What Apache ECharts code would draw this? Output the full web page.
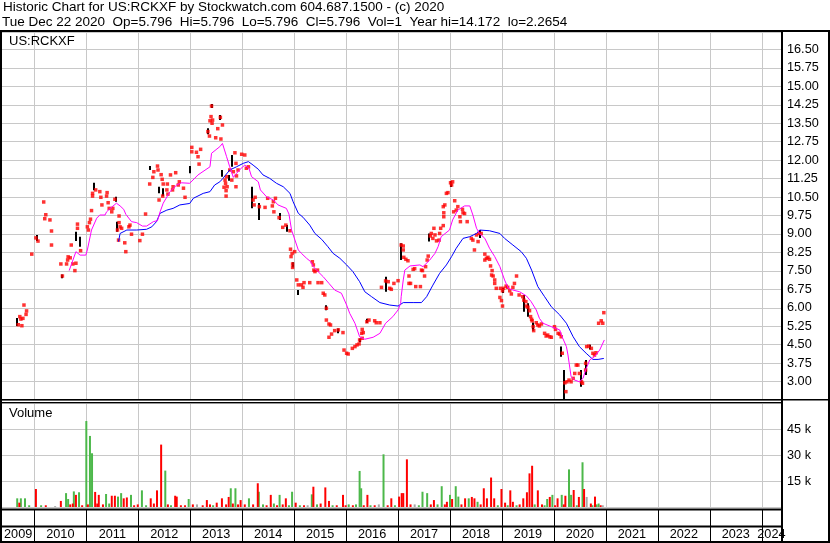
<!DOCTYPE html>
<html><head><meta charset="utf-8">
<script src="https://cdn.jsdelivr.net/npm/echarts@6/dist/echarts.min.js"></script>
<style>html,body{margin:0;padding:0;background:#fff}#c{width:830px;height:543px}</style>
</head><body><div id="c"></div>
<script>
const headerLine1 = 'Historic Chart for US:RCKXF by Stockwatch.com 604.687.1500 - (c) 2020';
const headerLine2 = 'Tue Dec 22 2020  Op=5.796  Hi=5.796  Lo=5.796  Cl=5.796  Vol=1  Year hi=14.172  lo=2.2654';
const tickerLabel = 'US:RCKXF';
const volumeLabel = 'Volume';
const yearLabels = ['2009','2010','2011','2012','2013','2014','2015','2016','2017','2018','2019','2020','2021','2022','2023','2024'];

// [decimal year, close]
const priceCloses = [
[2009.69,5.31],[2009.72,5.64],[2009.74,5.54],[2009.76,5.27],[2009.78,5.57],[2009.80,6.11],[2009.84,5.73],[2009.85,5.87],
[2009.95,8.18],[2010.03,8.84],[2010.07,8.71],[2010.18,10.30],[2010.20,9.62],[2010.22,9.78],[2010.30,9.57],[2010.33,9.12],[2010.33,8.55],
[2010.51,7.78],[2010.54,7.29],[2010.62,7.78],[2010.64,7.94],[2010.65,8.07],[2010.69,8.03],[2010.71,8.55],[2010.74,7.78],[2010.78,7.51],[2010.80,7.81],[2010.83,9.23],[2010.83,9.40],[2010.89,8.32],
[2011.02,9.29],[2011.04,9.16],[2011.06,9.46],[2011.08,9.60],[2011.10,9.95],[2011.12,10.54],[2011.12,10.65],[2011.18,10.79],[2011.26,10.72],[2011.28,10.49],[2011.30,10.18],[2011.39,10.54],[2011.40,10.68],[2011.42,10.27],[2011.44,10.04],[2011.49,9.90],[2011.51,10.04],[2011.55,10.41],[2011.60,9.16],[2011.62,8.75],[2011.63,9.73],[2011.63,9.46],[2011.65,9.29],[2011.68,9.23],[2011.74,8.64],[2011.76,8.28],[2011.82,9.29],[2011.84,9.36],[2011.87,8.99],
[2012.03,8.73],[2012.08,8.99],[2012.14,9.81],[2012.22,11.03],[2012.28,11.30],[2012.30,11.53],[2012.37,11.76],[2012.38,11.60],[2012.40,10.38],[2012.44,11.41],[2012.46,11.22],[2012.47,10.54],[2012.48,11.03],[2012.55,10.79],[2012.56,11.03],[2012.57,10.62],[2012.62,11.40],[2012.66,10.79],[2012.67,10.92],[2012.72,11.49],[2012.77,10.99],[2012.79,11.12],[2012.87,10.86],[2012.90,10.49],
[2013.03,12.34],[2013.03,12.52],[2013.12,12.32],[2013.15,12.14],[2013.17,11.84],[2013.20,12.44],[2013.34,13.16],[2013.37,12.98],[2013.38,13.60],[2013.40,13.77],[2013.41,14.20],[2013.42,13.50],[2013.43,13.63],[2013.49,12.91],[2013.53,13.28],[2013.58,13.74],[2013.59,12.86],[2013.62,13.43],[2013.65,10.90],[2013.67,11.19],[2013.68,11.06],[2013.69,10.76],[2013.69,10.54],[2013.70,11.33],[2013.71,10.92],[2013.76,11.60],[2013.80,11.19],[2013.83,11.53],[2013.86,12.30],[2013.88,11.87],[2013.88,10.92],[2013.89,11.36],[2013.92,11.60],[2013.99,12.24],
[2014.05,12.21],[2014.08,11.67],[2014.12,11.73],[2014.21,10.38],[2014.23,10.18],[2014.25,10.49],[2014.33,10.11],[2014.44,10.08],[2014.49,10.45],[2014.58,10.14],[2014.60,10.31],[2014.61,9.90],[2014.64,10.45],[2014.71,9.66],[2014.78,9.27],[2014.84,9.36],[2014.92,9.13],[2014.93,8.38],[2014.94,8.08],[2014.96,8.21],[2014.97,7.78],[2014.97,7.64],
[2015.01,8.28],[2015.05,7.13],[2015.08,6.93],[2015.14,6.93],[2015.17,6.83],[2015.19,7.02],[2015.30,7.02],[2015.35,7.87],[2015.37,7.74],[2015.38,7.53],[2015.40,7.47],[2015.45,7.53],[2015.46,7.02],[2015.53,7.02],[2015.56,6.59],[2015.59,6.52],[2015.62,5.98],[2015.62,5.50],[2015.67,5.34],[2015.67,4.80],[2015.70,5.30],[2015.72,4.93],[2015.78,5.07],[2015.85,5.10],[2015.94,4.99],[2015.96,4.28],
[2016.01,4.15],[2016.04,4.12],[2016.12,4.35],[2016.17,4.42],[2016.21,4.49],[2016.25,4.53],[2016.26,4.69],[2016.30,4.96],[2016.31,4.76],[2016.31,5.12],[2016.33,4.99],[2016.40,5.43],[2016.44,5.50],[2016.55,5.47],[2016.58,5.39],[2016.65,5.39],[2016.68,6.83],[2016.76,7.09],[2016.81,7.06],[2016.84,6.79],[2016.87,6.75],[2016.92,6.99],
[2017.00,7.10],[2017.06,8.55],[2017.10,8.35],[2017.10,8.51],[2017.11,8.05],[2017.15,7.97],[2017.19,7.91],[2017.21,7.29],[2017.21,6.99],[2017.24,6.99],[2017.29,7.56],[2017.32,7.59],[2017.34,6.86],[2017.43,6.86],[2017.45,7.53],[2017.47,7.51],[2017.51,7.29],[2017.53,7.67],[2017.56,7.94],[2017.58,8.10],[2017.62,8.92],[2017.64,9.02],[2017.67,8.82],[2017.69,9.23],[2017.71,8.96],[2017.74,8.72],[2017.79,8.75],[2017.80,9.02],[2017.82,9.23],[2017.87,9.34],[2017.87,10.11],[2017.88,9.70],[2017.88,9.86],[2017.90,10.18],[2017.93,10.65],[2017.96,10.68],
[2018.01,11.08],[2018.03,10.99],[2018.05,11.12],[2018.07,9.90],[2018.09,10.35],[2018.12,9.97],[2018.15,10.11],[2018.19,9.70],[2018.20,9.50],[2018.24,10.00],[2018.25,9.86],[2018.28,9.83],[2018.33,9.50],[2018.41,8.82],[2018.44,8.75],[2018.47,8.35],[2018.51,8.96],[2018.54,8.69],[2018.56,9.02],[2018.60,9.02],[2018.67,8.18],[2018.67,7.94],[2018.70,8.01],[2018.73,8.05],[2018.76,7.97],[2018.78,7.70],[2018.80,7.33],[2018.81,7.51],[2018.83,7.29],[2018.86,7.13],[2018.86,6.99],[2018.89,6.79],[2018.96,6.42],[2018.97,6.79],[2018.99,6.29],
[2019.01,6.07],[2019.01,6.69],[2019.03,6.79],[2019.08,6.88],[2019.11,6.83],[2019.15,6.69],[2019.18,6.56],[2019.21,6.83],[2019.24,6.99],[2019.28,7.29],[2019.33,6.52],[2019.40,6.45],[2019.42,6.31],[2019.46,6.25],[2019.47,6.07],[2019.50,6.02],[2019.53,5.88],[2019.55,5.64],[2019.57,5.53],[2019.58,5.47],[2019.60,5.23],[2019.61,5.07],[2019.66,5.39],[2019.69,5.30],[2019.72,5.26],[2019.76,5.34],[2019.82,4.96],[2019.85,4.85],[2019.88,4.89],[2019.92,4.82],[2019.95,4.80],
[2020.01,5.23],[2020.03,5.12],[2020.08,4.96],[2020.11,4.93],[2020.14,4.82],[2020.16,4.15],[2020.21,2.95],[2020.23,2.59],[2020.25,2.99],[2020.29,3.06],[2020.33,2.99],[2020.37,3.13],[2020.40,3.33],[2020.43,3.67],[2020.46,3.67],[2020.49,3.33],[2020.53,2.99],[2020.55,2.93],[2020.61,3.47],[2020.61,3.74],[2020.63,4.42],[2020.67,4.44],[2020.72,4.35],[2020.75,4.15],[2020.78,4.08],[2020.81,4.17],[2020.86,5.37],[2020.91,5.47],[2020.94,5.37],[2020.96,5.80]
];

// [decimal year, low, high]
const priceRanges = [
[2009.67,5.26,5.58],[2010.06,8.71,8.96],[2010.54,7.20,7.35],[2010.81,8.71,9.09],[2010.88,8.48,8.89],[2011.15,10.78,11.08],[2011.57,10.31,10.51],[2011.60,9.09,9.50],
[2012.23,11.60,11.76],[2012.40,10.65,10.92],[2012.47,10.54,10.86],[2012.99,11.47,11.76],[2013.34,13.05,13.30],[2013.41,14.12,14.28],[2013.57,13.63,13.84],[2013.62,11.33,11.60],[2013.74,11.16,11.40],[2013.80,11.73,12.21],
[2014.19,10.04,10.92],[2014.32,9.57,10.26],[2014.72,9.57,9.85],[2014.87,9.09,9.36],[2014.97,7.64,7.85],[2015.08,6.52,6.72],[2015.62,5.90,6.10],[2015.85,4.96,5.16],[2016.26,4.60,4.75],[2016.40,5.38,5.55],[2016.76,6.65,7.26],
[2017.06,7.94,8.62],[2017.60,8.69,9.02],[2018.01,10.91,11.15],[2018.57,8.84,9.16],[2019.01,6.60,6.80],[2019.42,5.84,6.52],[2019.50,5.63,6.18],[2019.60,5.07,5.40],[2020.14,4.01,4.42],[2020.19,2.27,3.47],[2020.53,2.79,3.47],[2020.61,3.27,3.88],[2020.70,4.30,4.50]
];

// short moving average (magenta)
const maShort = [
[2010.67,7.51],[2010.80,8.28],[2010.88,8.14],[2010.99,8.14],[2011.02,8.35],[2011.10,9.16],[2011.20,9.64],[2011.26,9.77],[2011.36,9.77],[2011.39,9.90],[2011.46,10.04],[2011.58,10.25],[2011.65,10.14],[2011.72,10.00],[2011.76,9.80],[2011.87,9.50],[2011.97,9.46],[2012.08,9.32],[2012.16,9.32],[2012.29,9.50],[2012.37,9.54],[2012.42,9.90],[2012.48,10.25],[2012.61,10.72],[2012.74,10.99],[2012.83,11.08],[2012.99,11.06],[2013.15,11.40],[2013.38,11.73],[2013.41,12.28],[2013.57,12.55],[2013.62,12.68],[2013.70,12.14],[2013.76,11.73],[2013.83,11.30],[2013.89,11.46],[2013.96,11.63],[2014.05,11.80],[2014.13,11.67],[2014.18,11.33],[2014.31,11.12],[2014.35,10.79],[2014.47,10.51],[2014.60,10.38],[2014.69,10.18],[2014.85,10.04],[2014.90,9.81],[2014.95,9.16],[2015.08,8.35],[2015.14,8.21],[2015.24,8.01],[2015.32,7.87],[2015.37,7.67],[2015.46,7.47],[2015.56,7.26],[2015.67,6.99],[2015.78,6.72],[2015.91,6.59],[2016.01,6.11],[2016.07,5.77],[2016.17,5.37],[2016.26,4.82],[2016.36,4.72],[2016.52,4.80],[2016.65,4.96],[2016.76,5.37],[2016.90,5.64],[2017.00,5.91],[2017.05,6.18],[2017.06,6.45],[2017.10,7.13],[2017.13,7.53],[2017.23,7.70],[2017.42,7.74],[2017.48,7.67],[2017.61,7.94],[2017.71,8.21],[2017.77,8.48],[2017.83,8.89],[2017.99,9.16],[2018.05,9.57],[2018.15,9.97],[2018.28,10.14],[2018.38,10.14],[2018.44,9.77],[2018.51,9.23],[2018.57,9.02],[2018.67,8.82],[2018.76,8.42],[2018.86,8.08],[2018.96,7.67],[2019.05,7.13],[2019.12,6.79],[2019.21,6.72],[2019.34,6.65],[2019.47,6.48],[2019.56,6.25],[2019.66,5.91],[2019.72,5.57],[2019.79,5.37],[2019.95,5.23],[2020.11,5.10],[2020.17,4.76],[2020.24,4.42],[2020.27,4.08],[2020.33,3.20],[2020.40,3.06],[2020.49,2.99],[2020.56,3.13],[2020.61,3.47],[2020.69,3.88],[2020.78,4.01],[2020.88,4.28],[2020.97,4.69]
];

// long moving average (blue)
const maLong = [
[2011.62,8.69],[2011.65,9.02],[2011.78,9.16],[2011.97,9.16],[2012.16,9.19],[2012.26,9.29],[2012.35,9.50],[2012.42,9.84],[2012.55,9.97],[2012.67,10.04],[2012.80,10.18],[2012.99,10.24],[2013.06,10.45],[2013.25,10.65],[2013.38,10.72],[2013.47,10.99],[2013.57,11.12],[2013.63,11.26],[2013.76,11.60],[2013.89,11.73],[2014.02,11.87],[2014.12,11.94],[2014.21,11.80],[2014.31,11.63],[2014.40,11.40],[2014.53,11.26],[2014.66,11.06],[2014.79,10.92],[2014.92,10.65],[2014.98,10.31],[2015.08,9.84],[2015.17,9.68],[2015.30,9.36],[2015.40,9.02],[2015.53,8.78],[2015.65,8.48],[2015.75,8.21],[2015.88,8.01],[2016.01,7.74],[2016.13,7.47],[2016.26,7.06],[2016.36,6.65],[2016.49,6.45],[2016.65,6.21],[2016.84,6.11],[2017.00,6.07],[2017.10,6.21],[2017.29,6.21],[2017.45,6.21],[2017.55,6.45],[2017.67,6.92],[2017.80,7.40],[2017.93,7.74],[2018.03,8.08],[2018.12,8.42],[2018.25,8.82],[2018.38,8.89],[2018.51,9.02],[2018.57,9.16],[2018.76,9.13],[2018.96,9.02],[2019.05,8.82],[2019.21,8.55],[2019.37,8.28],[2019.47,8.01],[2019.57,7.53],[2019.69,6.86],[2019.82,6.45],[2019.95,6.04],[2020.11,5.71],[2020.24,5.37],[2020.37,4.82],[2020.49,4.42],[2020.62,4.15],[2020.75,3.90],[2020.85,3.90],[2020.96,3.94]
];

// volume [decimal year, shares]
const volUp = [
[2009.67,5000],[2009.74,5000],[2009.82,5000],[2009.90,1000],[2010.13,1000],[2010.61,8000],[2010.65,4600],[2010.76,9000],[2010.86,8500],[2011.00,49600],[2011.07,41000],[2011.11,31000],[2011.38,7500],[2011.44,2000],[2011.61,6000],[2011.67,8000],[2011.86,7000],[2012.07,9600],[2012.15,1000],[2012.52,21000],[2012.63,1000],[2012.97,4600],[2013.44,1000],[2013.78,10800],[2013.87,10800],[2014.13,5000],[2014.32,8800],[2014.40,1500],[2014.61,2000],[2014.72,7000],[2014.90,1000],[2014.96,8800],[2015.11,1000],[2015.34,7300],[2015.44,1500],[2015.74,1000],[2016.05,1500],[2016.19,1500],[2016.26,20800],[2016.29,10800],[2016.47,1000],[2016.72,30400],[2016.94,1000],[2017.40,1000],[2017.47,8800],[2017.56,8000],[2017.76,1500],[2017.84,12000],[2018.00,7000],[2018.11,12000],[2018.16,6000],[2018.36,5000],[2018.53,3000],[2018.92,1000],[2019.11,1000],[2019.28,1000],[2019.63,1500],[2019.82,1000],[2019.87,4600],[2019.97,7000],[2020.15,7000],[2020.29,21700],[2020.33,7000],[2020.44,1000],[2020.55,25800],[2020.74,1000],[2020.82,1500],[2020.86,2000]
];
const volDown = [
[2009.71,2500],[2010.03,10400],[2010.22,1000],[2010.51,3500],[2010.69,1500],[2010.74,2000],[2010.80,7000],[2010.92,1000],[2011.03,1500],[2011.17,8700],[2011.21,2000],[2011.24,7000],[2011.32,1500],[2011.49,6500],[2011.55,6500],[2011.72,5000],[2011.78,5500],[2011.92,1000],[2011.99,1500],[2012.24,5000],[2012.30,2000],[2012.36,9600],[2012.44,36000],[2012.57,1500],[2012.71,6500],[2012.74,6000],[2012.82,1000],[2012.90,1000],[2013.05,1500],[2013.24,1000],[2013.32,4000],[2013.38,1500],[2013.51,2500],[2013.61,5000],[2013.69,1500],[2013.74,5800],[2013.82,2000],[2013.92,1500],[2013.97,4000],[2014.05,1500],[2014.21,1500],[2014.30,13700],[2014.47,1000],[2014.55,7000],[2014.67,1000],[2014.78,1500],[2014.84,5000],[2015.03,2500],[2015.19,1000],[2015.37,11700],[2015.51,2000],[2015.60,11300],[2015.67,3500],[2015.82,1000],[2015.94,7000],[2015.99,1000],[2016.13,1000],[2016.34,1000],[2016.41,7000],[2016.55,1000],[2016.80,1000],[2016.87,5000],[2017.02,6000],[2017.07,8000],[2017.10,8000],[2017.17,27500],[2017.24,1500],[2017.63,1500],[2017.69,4000],[2017.90,1500],[2017.94,3000],[2018.04,4600],[2018.22,1500],[2018.29,5000],[2018.42,5800],[2018.47,5000],[2018.59,1500],[2018.65,10800],[2018.71,5000],[2018.79,17000],[2018.85,5000],[2018.99,10400],[2019.06,2500],[2019.16,9600],[2019.21,3000],[2019.34,1500],[2019.41,5000],[2019.48,8500],[2019.53,19400],[2019.58,23800],[2019.69,9600],[2019.77,1500],[2019.92,5800],[2020.02,1000],[2020.07,5000],[2020.19,1500],[2020.22,6500],[2020.38,9800],[2020.48,5800],[2020.58,10400],[2020.71,2000],[2020.79,6000],[2020.90,1000]
];
const volFlat = [
[2010.40,500],[2013.13,1500],[2015.26,1000],[2016.63,1500],[2017.32,1500],[2020.63,5800],[2020.94,1000]
];

const FONT = '"Liberation Sans", Arial, Helvetica, sans-serif';
const GRID_GREY = '#c8c8c8';
const X_MIN = 2009, X_MAX = 2024.37;

const chart = echarts.init(document.getElementById('c'), null, {renderer: 'canvas'});

const volData = []
  .concat(volUp.map(d => ({value: d, itemStyle: {color: '#4cb84a'}})))
  .concat(volDown.map(d => ({value: d, itemStyle: {color: '#ff0000'}})))
  .concat(volFlat.map(d => ({value: d, itemStyle: {color: '#a8a8a8'}})));

function xAxisCfg(gridIndex, lineColor) {
  return {
    type: 'value', gridIndex, min: X_MIN, max: X_MAX, interval: 1,
    axisLine: {show: false}, axisTick: {show: false}, axisLabel: {show: false},
    splitLine: {show: true, lineStyle: {color: lineColor, width: 1}}
  };
}

function blackRect(x, y, w, h) {
  return {type: 'rect', z: 100, silent: true, shape: {x, y, width: w, height: h}, style: {fill: '#000'}};
}
function label(text, x, y, size) {
  return {type: 'text', z: 100, silent: true, x, y,
    style: {text, fill: '#000', font: size + 'px ' + FONT, textAlign: 'left', textVerticalAlign: 'middle', align: 'left', verticalAlign: 'middle'}};
}

const option = {
  animation: false,
  backgroundColor: '#ffffff',
  grid: [
    {left: -17.6, right: 49, top: 32, height: 368, containLabel: false, outerBoundsMode: 'none'},
    {left: -17.6, right: 49, top: 403, height: 104, containLabel: false, outerBoundsMode: 'none'},
    {left: -17.6, right: 49, top: 510, height: 31, containLabel: false, outerBoundsMode: 'none'}
  ],
  xAxis: [xAxisCfg(0, GRID_GREY), xAxisCfg(1, GRID_GREY), xAxisCfg(2, '#000')],
  yAxis: [
    {
      type: 'value', gridIndex: 0, position: 'right', min: 2.25, max: 17.21, interval: 0.75,
      axisLine: {show: false}, axisTick: {show: false},
      axisLabel: {
        show: true, margin: 6, color: '#000', fontFamily: FONT, fontSize: 12.7, padding: [0, 0, 3, 0],
        formatter: v => (v >= 2.99 && v <= 16.51) ? v.toFixed(2) : ''
      },
      splitLine: {show: true, lineStyle: {color: GRID_GREY, width: 1}}
    },
    {
      type: 'value', gridIndex: 1, position: 'right', min: 0, max: 60000, interval: 15000,
      axisLine: {show: false}, axisTick: {show: false},
      axisLabel: {
        show: true, margin: 6, color: '#000', fontFamily: FONT, fontSize: 12.7, padding: [0, 0, 3, 0],
        formatter: v => (v > 0 && v < 60000) ? (v / 1000) + ' k' : ''
      },
      splitLine: {show: true, lineStyle: {color: GRID_GREY, width: 1}}
    },
    {type: 'value', gridIndex: 2, min: 0, max: 1, show: false, splitLine: {show: false}}
  ],
  series: [
    {
      type: 'bar', xAxisIndex: 1, yAxisIndex: 1, data: volData, barWidth: 2, silent: true,
      large: false
    },
    {
      type: 'custom', xAxisIndex: 0, yAxisIndex: 0, data: priceRanges, silent: true,
      encode: {x: 0, y: [1, 2]},
      renderItem: (params, api) => {
        const lo = api.coord([api.value(0), api.value(1)]);
        const hi = api.coord([api.value(0), api.value(2)]);
        return {type: 'rect', shape: {x: Math.round(hi[0]) - 1, y: hi[1], width: 2, height: Math.max(1, lo[1] - hi[1])}, style: {fill: '#000'}};
      }
    },
    {
      type: 'scatter', xAxisIndex: 0, yAxisIndex: 0, data: priceCloses, silent: true,
      symbol: 'rect', symbolSize: 3.5, itemStyle: {color: '#ff0000'}
    },
    {
      type: 'line', xAxisIndex: 0, yAxisIndex: 0, data: maLong, silent: true,
      showSymbol: false, symbol: 'none', lineStyle: {color: '#0000ff', width: 1}
    },
    {
      type: 'line', xAxisIndex: 0, yAxisIndex: 0, data: maShort, silent: true,
      showSymbol: false, symbol: 'none', lineStyle: {color: '#ff00ff', width: 1}
    },
    {
      type: 'custom', xAxisIndex: 2, yAxisIndex: 2, silent: true, clip: false,
      data: yearLabels.map(y => [Number(y), 0.5]),
      encode: {x: 0, y: 1},
      renderItem: (params, api) => {
        const y0 = api.value(0);
        const a = api.coord([y0, 0.5])[0];
        const b = api.coord([y0 + 1, 0.5])[0];
        const l = Math.max(a, 2), r = Math.min(b, 781);
        return {type: 'text', x: (l + r) / 2, y: 534.5,
          style: {text: yearLabels[params.dataIndex], fill: '#000', font: '12.7px ' + FONT,
            textAlign: 'center', textVerticalAlign: 'middle', align: 'center', verticalAlign: 'middle'}};
      }
    }
  ],
  graphic: {elements: [
    label(headerLine1, 3, 7.5, 13.5),
    label(headerLine2, 2, 22.5, 13.5),
    label(tickerLabel, 9, 41, 13),
    label(volumeLabel, 9, 413, 13),
    blackRect(0, 30, 830, 2),
    blackRect(0, 30, 2, 513),
    blackRect(781, 30, 2, 513),
    blackRect(828, 30, 2, 513),
    blackRect(0, 399, 830, 1.5),
    blackRect(0, 402, 783, 1.3),
    blackRect(0, 508.5, 783, 2),
    blackRect(0, 525.5, 783, 2),
    blackRect(0, 541, 830, 2)
  ]}
};
chart.setOption(option);
</script>
</body></html>
